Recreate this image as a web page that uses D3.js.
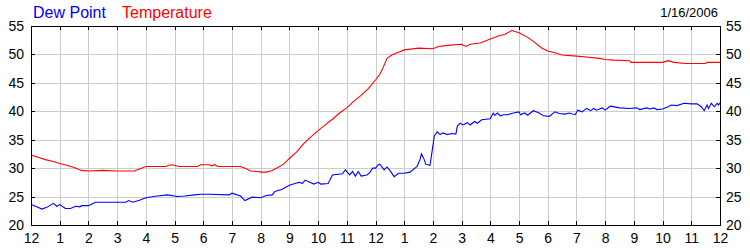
<!DOCTYPE html>
<html>
<head>
<meta charset="utf-8">
<script src="https://cdn.jsdelivr.net/npm/d3@7"></script>
<style>
  body { margin: 0; background: #fff; }
  svg { font-family: "Liberation Sans", Arial, sans-serif; }
  .grid line { stroke: #cccccc; stroke-width: 1; shape-rendering: crispEdges; }
  .axis path, .axis line { stroke: #000; shape-rendering: crispEdges; }
  .axis text { font-size: 14px; fill: #000; }
</style>
</head>
<body>
<div id="chart"></div>
<script>
// hours since midnight 1/16/2006
var tempTimes = [0,0.25,0.5,0.75,1,1.25,1.5,1.75,2,2.5,3,3.6,3.85,4,4.7,4.85,5,5.15,5.8,5.9,6.2,6.3,6.4,6.5,7.3,7.5,7.65,7.9,8,8.2,8.4,8.6,8.8,9,9.25,9.5,9.75,10,10.25,10.5,10.75,11,11.25,11.5,11.75,12,12.15,12.25,12.4,12.6,12.8,13,13.5,14,14.2,14.5,15,15.15,15.3,15.65,16,16.3,16.5,16.75,17,17.3,17.5,17.8,18,18.25,18.5,19,19.25,19.8,20,20.3,20.85,20.9,22,22.2,22.4,22.8,23.5,23.55,24];
var tempValues = [32.3,31.9,31.5,31.2,30.8,30.5,30.1,29.6,29.5,29.6,29.5,29.5,30.0,30.3,30.3,30.6,30.5,30.3,30.3,30.6,30.6,30.4,30.6,30.3,30.3,29.9,29.5,29.4,29.3,29.3,29.6,30.1,30.7,31.7,32.8,34.3,35.5,36.6,37.6,38.6,39.7,40.6,41.8,42.8,44.0,45.5,46.5,47.5,49.3,50.0,50.4,50.8,51.1,51.0,51.4,51.6,51.8,51.4,51.8,52.0,52.7,53.3,53.5,54.2,53.8,53.0,52.3,51.1,50.6,50.3,49.9,49.7,49.6,49.3,49.1,49.0,48.9,48.6,48.6,48.9,48.6,48.4,48.4,48.6,48.6];

var dewTimes = [0,0.2,0.38,0.55,0.78,0.9,1,1.2,1.38,1.55,1.7,1.77,2,2.25,3.3,3.4,3.55,3.8,4,4.4,4.75,5.1,5.35,5.7,5.9,6.2,6.9,7,7.3,7.45,7.7,8,8.2,8.4,8.5,8.75,9,9.25,9.35,9.45,9.55,9.85,10,10.1,10.35,10.5,10.85,10.95,11.1,11.2,11.3,11.4,11.5,11.7,11.8,11.9,12,12.1,12.15,12.3,12.4,12.5,12.65,12.8,13,13.2,13.45,13.55,13.6,13.7,13.75,13.9,14.05,14.15,14.25,14.35,14.5,14.65,14.8,14.85,14.95,15.05,15.2,15.3,15.45,15.55,15.7,15.85,16,16.1,16.15,16.25,16.35,16.45,16.6,16.8,17,17.05,17.2,17.3,17.5,17.7,17.85,18.05,18.25,18.4,18.6,18.75,18.95,19.05,19.2,19.35,19.5,19.6,19.7,19.9,20,20.15,20.2,20.5,20.85,21.1,21.2,21.45,21.55,21.7,21.8,22,22.2,22.3,22.5,22.75,23,23.2,23.35,23.45,23.55,23.6,23.7,23.8,23.9,23.95,24];
var dewValues = [23.6,23.2,22.8,23.1,23.8,23.3,23.6,22.9,22.9,23.3,23.2,23.4,23.4,24.0,24.0,24.3,24.0,24.4,24.8,25.1,25.3,25.0,25.1,25.3,25.4,25.4,25.3,25.6,25.1,24.3,24.9,24.8,25.2,25.3,25.9,26.3,27.0,27.4,27.5,27.3,27.9,27.2,27.5,27.2,27.3,28.8,29.0,29.7,28.8,29.4,28.6,29.4,28.6,28.8,29.2,30.0,30.0,30.6,30.7,29.7,30.2,29.6,28.5,29.1,29.1,29.3,30.3,31.5,32.5,31.5,30.7,30.5,35.7,36.4,35.9,36.2,35.9,36.1,36.0,37.4,37.9,37.6,38.0,37.6,38.2,37.9,38.5,38.6,38.7,39.7,39.3,39.7,39.2,39.4,39.4,39.7,39.9,39.4,39.7,39.3,40.1,39.7,39.2,39.1,39.9,39.6,39.5,39.7,39.4,40.2,39.9,40.5,40.1,40.5,40.2,40.6,40.2,40.8,40.9,40.6,40.5,40.6,40.3,40.6,40.4,40.6,40.3,40.4,40.8,41.1,41.0,41.4,41.3,41.3,40.8,40.1,41.1,40.5,41.4,40.8,41.4,41.1,41.5];

var hourTicks = d3.range(0, 25);
var hourLabels = [12,1,2,3,4,5,6,7,8,9,10,11,12,1,2,3,4,5,6,7,8,9,10,11,12];
var valueTicks = [20,25,30,35,40,45,50,55];
var dateLabel = "1/16/2006";

var width = 750, height = 250;
var padding = {left: 31, right: 30, top: 26, bottom: 25};

var svg = d3.select("#chart").append("svg")
    .attr("width", width)
    .attr("height", height);

var x = d3.scaleLinear().domain([0, 24]).range([padding.left, width - padding.right]);
var y = d3.scaleLinear().domain([20, 55]).range([height - padding.bottom, padding.top]);

// grid
var grid = svg.append("g").attr("class", "grid");
grid.selectAll("line.v")
    .data(hourTicks.slice(1, -1))
    .enter().append("line")
    .attr("x1", function(d){ return Math.round(x(d)) + .5; })
    .attr("x2", function(d){ return Math.round(x(d)) + .5; })
    .attr("y1", y(55)).attr("y2", y(20));
grid.selectAll("line.h")
    .data(valueTicks.slice(1, -1))
    .enter().append("line")
    .attr("y1", function(d){ return Math.round(y(d)) + .5; })
    .attr("y2", function(d){ return Math.round(y(d)) + .5; })
    .attr("x1", x(0)).attr("x2", x(24));

// lines
var line = d3.line()
    .x(function(d){ return x(d[0]); })
    .y(function(d){ return y(d[1]); });

svg.append("path")
    .datum(d3.zip(tempTimes, tempValues))
    .attr("fill", "none")
    .attr("stroke", "#ff0000")
    .attr("stroke-width", 1.1)
    .attr("d", line);

svg.append("path")
    .datum(d3.zip(dewTimes, dewValues))
    .attr("fill", "none")
    .attr("stroke", "#0000ff")
    .attr("stroke-width", 1.1)
    .attr("d", line);

// axes
var xb = d3.axisBottom(x).tickValues(hourTicks)
    .tickFormat(function(d, i){ return hourLabels[i]; })
    .tickSize(-4).tickPadding(8);
svg.append("g").attr("class", "axis x")
    .attr("transform", "translate(0," + y(20) + ")")
    .call(xb);

var xt = d3.axisTop(x).tickValues(hourTicks).tickFormat("").tickSize(-4);
svg.append("g").attr("class", "axis")
    .attr("transform", "translate(0," + y(55) + ")")
    .call(xt);

var yl = d3.axisLeft(y).tickValues(valueTicks).tickSize(-4).tickPadding(7);
svg.append("g").attr("class", "axis")
    .attr("transform", "translate(" + x(0) + ",0)")
    .call(yl);

var yr = d3.axisRight(y).tickValues(valueTicks).tickSize(-4).tickPadding(6);
svg.append("g").attr("class", "axis")
    .attr("transform", "translate(" + x(24) + ",0)")
    .call(yr);

svg.selectAll(".axis path").attr("stroke-width", 1.5);

// titles
svg.append("text")
    .attr("x", 33).attr("y", 18)
    .attr("font-size", 16)
    .attr("fill", "#0000ff")
    .text("Dew Point");
svg.append("text")
    .attr("x", 122).attr("y", 18)
    .attr("font-size", 16)
    .attr("fill", "#ff0000")
    .text("Temperature");
svg.append("text")
    .attr("x", 718).attr("y", 17)
    .attr("font-size", 13)
    .attr("text-anchor", "end")
    .attr("fill", "#000")
    .text(dateLabel);
</script>
</body>
</html>
